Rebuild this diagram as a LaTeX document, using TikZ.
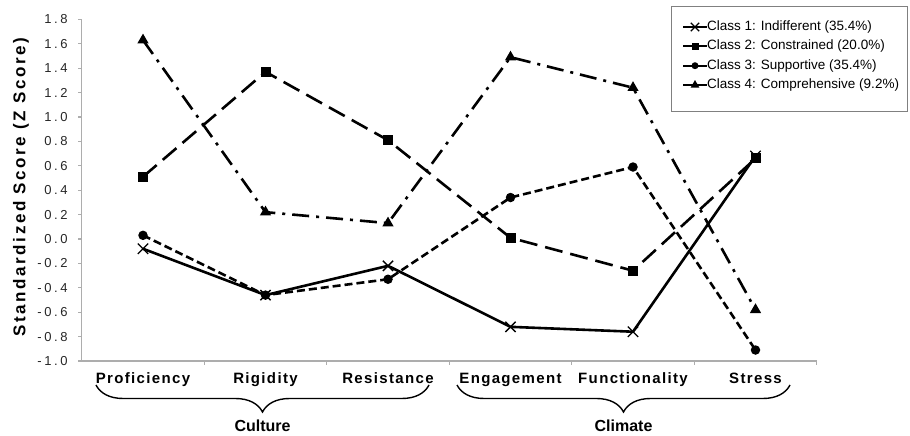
\documentclass[tikz,border=0pt]{standalone}
\usepackage{fontspec}
\setmainfont{Liberation Sans}
\newfontfamily\tickfont[LetterSpace=20]{Liberation Sans}
\newfontfamily\catfont[LetterSpace=9]{Liberation Sans}
\newfontfamily\titlefont[LetterSpace=15]{Liberation Sans}
\usepackage{tikz}
\usetikzlibrary{positioning,shapes.geometric,shapes.misc,decorations.pathreplacing}
\definecolor{axisgray}{gray}{0.68}
\definecolor{boxgray}{gray}{0.5}

\begin{document}
\begin{tikzpicture}[
    x=1pt, y=1pt,
    axis/.style={draw=axisgray, line width=1.2pt},
    ticklabel/.style={anchor=east, inner sep=0pt, text=black!85, font=\tickfont\fontsize{13}{15}\selectfont},
    catlabel/.style={anchor=base, inner sep=0pt, font=\catfont\bfseries\fontsize{15}{17}\selectfont},
    grouplabel/.style={anchor=base, inner sep=0pt, font=\bfseries\fontsize{16}{18}\selectfont},
    titlelabel/.style={inner sep=0pt, rotate=90, font=\titlefont\bfseries\fontsize{17}{19}\selectfont},
    groupbrace/.style={decorate, decoration={brace, mirror, amplitude=27pt}, line width=1.4pt},
    series/.style={line width=2.6pt, line join=round},
    indiff/.style={series},
    constr/.style={series, dash pattern=on 18pt off 8pt},
    suppor/.style={series, dash pattern=on 8pt off 4pt},
    compre/.style={series, dash pattern=on 17pt off 7pt on 3pt off 7pt},
    mkcross/.style={cross out, draw, line width=1.3pt, minimum size=9pt, inner sep=0pt},
    mksquare/.style={rectangle, fill, minimum size=10pt, inner sep=0pt},
    mkcircle/.style={circle, fill, minimum size=9.5pt, inner sep=0pt},
    mktri/.style={regular polygon, regular polygon sides=3, fill, minimum size=13pt, inner sep=0pt},
    legendbox/.style={draw=boxgray, line width=1pt},
    legendline/.style={line width=2.2pt},
    legendtext/.style={anchor=west, inner sep=0pt, font=\fontsize{13.5}{16}\selectfont}
]
\useasboundingbox (0,0) rectangle (910,436);

\node[titlelabel] (ytitle) at (21,249) {Standardized Score (Z Score)};

\begin{scope}[shift={(20.5pt,197pt)}, x=122.5pt, y=122pt]
    \draw[axis] (0.5,1.8) -- (0.5,-1) coordinate (origin) -- (6.5,-1);
    \foreach \t in {-1.0,-0.8,-0.6,-0.4,-0.2,0.0,0.2,0.4,0.6,0.8,1.0,1.2,1.4,1.6,1.8}
    {
        \draw[axis] (0.5,\t) -- ++(-4pt,0);
        \node[ticklabel, xshift=-14pt] (tick\t) at (0.5,\t) {\t};
    }
    \foreach \x in {1.5,2.5,...,6.5}
        \draw[axis] (\x,-1) -- ++(0,-4pt);
    \foreach \lab [count=\i] in {Proficiency,Rigidity,Resistance,Engagement,Functionality,Stress}
        \node[catlabel, yshift=-23pt] (cat\i) at (\i,-1) {\lab};

    \foreach \v [count=\i] in {-0.08,-0.46,-0.22,-0.72,-0.76,0.68}
        \coordinate (ind\i) at (\i,\v);
    \draw[indiff] (ind1) -- (ind2) -- (ind3) -- (ind4) -- (ind5) -- (ind6);
    \foreach \i in {1,...,6}
        \node[mkcross] (indm\i) at (ind\i) {};

    \foreach \v [count=\i] in {0.51,1.37,0.81,0.01,-0.26,0.66}
        \coordinate (con\i) at (\i,\v);
    \draw[constr] (con1) -- (con2) -- (con3) -- (con4) -- (con5) -- (con6);
    \foreach \i in {1,...,6}
        \node[mksquare] (conm\i) at (con\i) {};

    \foreach \v [count=\i] in {0.03,-0.46,-0.33,0.34,0.59,-0.91}
        \coordinate (sup\i) at (\i,\v);
    \draw[suppor] (sup1) -- (sup2) -- (sup3) -- (sup4) -- (sup5) -- (sup6);
    \foreach \i in {1,...,6}
        \node[mkcircle] (supm\i) at (sup\i) {};

    \foreach \v [count=\i] in {1.63,0.22,0.13,1.49,1.24,-0.58}
        \coordinate (com\i) at (\i,\v);
    \draw[compre] (com1) -- (com2) -- (com3) -- (com4) -- (com5) -- (com6);
    \foreach \i in {1,...,6}
        \node[mktri] (comm\i) at (com\i) {};
\end{scope}

\draw[groupbrace] (96,51) -- node[grouplabel, yshift=-47pt] (culture) {Culture} (429,51);
\draw[groupbrace] (457,51) -- node[grouplabel, yshift=-47pt] (climate) {Climate} (790,51);

\draw[legendbox] (671,324) rectangle (907,429);
\foreach \lab/\mk/\sz [count=\k] in {{Class 1: Indifferent (35.4\%)}/mkcross/7,
                                     {Class 2: Constrained (20.0\%)}/mksquare/7,
                                     {Class 3: Supportive (35.4\%)}/mkcircle/7,
                                     {Class 4: Comprehensive (9.2\%)}/mktri/10}
{
    \node[legendtext] (leg\k) at (707,{428.35-19.35*\k}) {\lab};
    \draw[legendline] (leg\k.west) -- ++(-24pt,0) coordinate (legend\k);
    \node[\mk, minimum size=\sz pt] (legm\k) at ([xshift=-12pt]leg\k.west) {};
}
\end{tikzpicture}
\end{document}
